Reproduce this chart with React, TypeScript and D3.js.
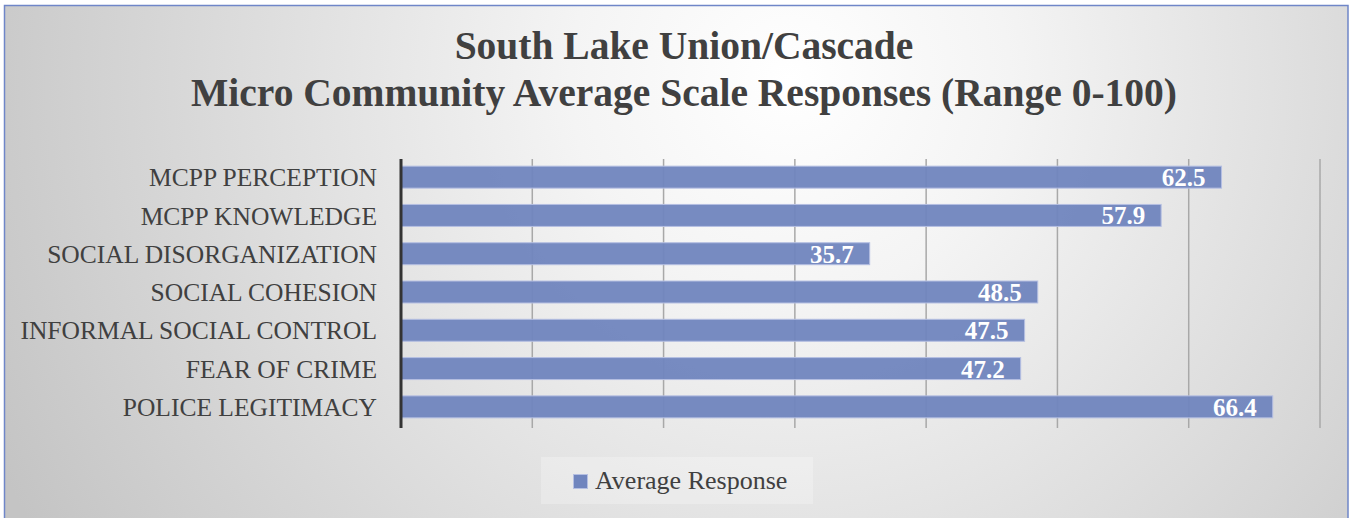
import * as d3 from 'd3'

const categories = [
  'MCPP PERCEPTION',
  'MCPP KNOWLEDGE',
  'SOCIAL DISORGANIZATION',
  'SOCIAL COHESION',
  'INFORMAL SOCIAL CONTROL',
  'FEAR OF CRIME',
  'POLICE LEGITIMACY',
]
const values = [62.5, 57.9, 35.7, 48.5, 47.5, 47.2, 66.4]
const xTicks = [0, 10, 20, 30, 40, 50, 60, 70]
const titleLines = ['South Lake Union/Cascade', 'Micro Community Average Scale Responses (Range 0-100)']
const seriesName = 'Average Response'

const W = 1349
const H = 518
const FONT = '"Liberation Serif", "DejaVu Serif", serif'
const BAR = '#7085be'

export default function App() {
  const margin = { left: 401, right: 29, top: 158, bottom: 92 }

  const x = d3.scaleLinear().domain([0, 70]).range([margin.left, W - margin.right])
  const y = d3
    .scaleBand<string>()
    .domain(categories)
    .range([margin.top, H - margin.bottom])
    .paddingInner(0.426)
    .paddingOuter(0.213)

  const [y0, y1] = y.range()

  return (
    <div style={{ position: 'absolute', left: 0, top: 0 }}>
      <svg width={W} height={H} style={{ display: 'block' }}>
        <defs>
          <radialGradient id="bg" gradientUnits="userSpaceOnUse" cx={790} cy={80} r={880}>
            <stop offset="0" stopColor="#ffffff" />
            <stop offset="0.25" stopColor="#f4f4f4" />
            <stop offset="1" stopColor="#c4c4c4" />
          </radialGradient>
        </defs>

        <rect x={4.5} y={5.5} width={W - 5.5} height={H + 10} fill="url(#bg)" stroke="#6f86c8" strokeWidth={1.5} />

        {/* title */}
        <g fontFamily={FONT} fontWeight="bold" fontSize={39.5} fill="#404040" textAnchor="middle">
          {titleLines.map((t, i) => (
            <text key={i} x={684} y={59 + i * 47}>
              {t}
            </text>
          ))}
        </g>

        {/* gridlines */}
        {xTicks.slice(1).map(t => (
          <line key={t} x1={x(t)} x2={x(t)} y1={y0 + 1} y2={y1 + 2} stroke="#a8a8a8" strokeWidth={1.5} />
        ))}

        {/* bars */}
        {categories.map((c, i) => (
          <g key={c}>
            <rect
              x={x(0)}
              y={y(c)!}
              width={x(values[i]) - x(0)}
              height={y.bandwidth()}
              fill={BAR}
              fillOpacity={0.95}
              stroke="#b5bfe2"
              strokeWidth={1}
            />
            <text
              x={x(values[i]) - 16}
              y={y(c)! + y.bandwidth() / 2}
              dy="0.36em"
              textAnchor="end"
              fontFamily={FONT}
              fontWeight="bold"
              fontSize={25}
              fill="#ffffff"
            >
              {values[i].toFixed(1)}
            </text>
            <text
              x={377}
              y={y(c)! + y.bandwidth() / 2}
              dy="0.36em"
              textAnchor="end"
              fontFamily={FONT}
              fontSize={25.5}
              fill="#404040"
            >
              {c}
            </text>
          </g>
        ))}

        {/* axis line */}
        <line x1={x(0)} x2={x(0)} y1={y0 + 1} y2={y1 + 2} stroke="#333333" strokeWidth={3} />

        {/* legend */}
        <rect x={541} y={457} width={272} height={47} fill="#ffffff" fillOpacity={0.25} />
        <rect x={573.5} y={474.5} width={14} height={14} fill={BAR} stroke="#b5bfe2" strokeWidth={1} />
        <text x={595} y={489} fontFamily={FONT} fontSize={26} fill="#404040">
          {seriesName}
        </text>
      </svg>
    </div>
  )
}
